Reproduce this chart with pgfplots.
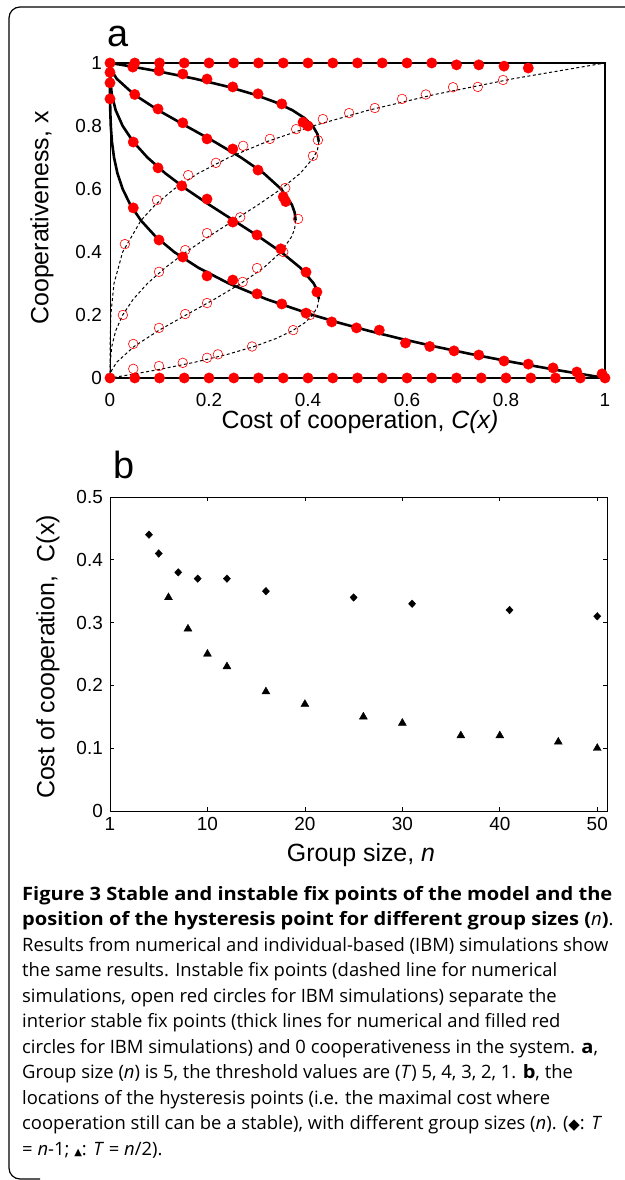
\documentclass[border=0pt]{standalone}
\usepackage{fontspec}
\setmainfont{Liberation Sans}
\newfontfamily\capfont{Open Sans}[BoldFeatures={FakeStretch=1.09}]
\newfontfamily\symfont{DejaVu Sans}
\usepackage{pgfplots}
\pgfplotsset{compat=1.18}
\begin{document}
\begin{tikzpicture}[x=1bp,y=1bp]
\useasboundingbox (0,0) rectangle (625,1180);
\draw[line width=1.2bp, rounded corners=11bp] (626,1173) -- (9,1173) -- (9,1) -- (40,1);

% ---- panel a
\node[font=\fontsize{38}{38}\selectfont, inner sep=0pt] at (118,1143) {a};
\begin{axis}[at={(110bp,802bp)}, anchor=south west, scale only axis, width=495bp, height=315bp,
  xmin=0, xmax=1, ymin=0, ymax=1, enlargelimits=false, clip=false,
  axis x line=bottom, axis y line=left, axis line style={-, line width=0.9bp},
  xtick={0,0.2,0.4,0.6,0.8,1}, xticklabels={0,0.2,0.4,0.6,0.8,1},
  ytick={0,0.2,0.4,0.6,0.8,1}, yticklabels={0,0.2,0.4,0.6,0.8,1},
  major tick length=0pt,
  tick label style={font=\fontsize{19}{19}\selectfont, inner sep=0pt},
  xticklabel style={anchor=center, yshift=-22bp},
  yticklabel style={anchor=east, xshift=-8bp}]
% IBM, stable
\addplot[only marks, mark=*, mark size=5.2bp, mark options={draw=red, fill=red}] coordinates {
 (0,1) (0.05,1) (0.1,1) (0.15,1) (0.2,1) (0.25,1) (0.3,1) (0.35,1) (0.4,1) (0.45,1)
 (0.5,1) (0.55,1) (0.6,1) (0.65,1) (0.7,0.994) (0.745,0.994) (0.796,0.99) (0.845,0.984)
 (0,0.97) (0,0.937) (0,0.886)
 (0.046,0.987) (0.099,0.975) (0.147,0.965) (0.196,0.949) (0.248,0.924) (0.299,0.902) (0.347,0.870) (0.39,0.812) (0.40,0.80)
 (0.05,0.90) (0.097,0.854) (0.147,0.81) (0.196,0.759) (0.248,0.727) (0.299,0.66) (0.35,0.575) (0.355,0.56)
 (0.047,0.749) (0.097,0.667) (0.145,0.61) (0.196,0.568) (0.248,0.495) (0.297,0.454) (0.345,0.41) (0.396,0.336) (0.418,0.273)
 (0.047,0.54) (0.099,0.438) (0.147,0.384) (0.196,0.324) (0.248,0.311) (0.297,0.267) (0.347,0.235) (0.396,0.206)
 (0.448,0.178) (0.498,0.159) (0.544,0.152) (0.597,0.111) (0.646,0.10) (0.695,0.086) (0.745,0.073) (0.796,0.054)
 (0.845,0.044) (0.895,0.032) (0.943,0.019) (0.994,0.013)
 (0,0) (0.05,0) (0.1,0) (0.15,0) (0.2,0) (0.25,0) (0.3,0) (0.35,0) (0.4,0) (0.45,0) (0.5,0)
 (0.55,0) (0.6,0) (0.65,0) (0.7,0) (0.75,0) (0.8,0) (0.85,0) (0.9,0) (0.95,0) (1,0)};
% IBM, unstable
\addplot[only marks, mark=o, mark size=4.8bp, mark options={draw=red, line width=0.6bp}] coordinates {
 (0.03,0.425) (0.095,0.565) (0.158,0.644) (0.214,0.683) (0.269,0.737) (0.323,0.759) (0.376,0.79) (0.43,0.822)
 (0.483,0.841) (0.535,0.857) (0.59,0.886) (0.638,0.90) (0.693,0.923) (0.743,0.924) (0.794,0.946)
 (0.026,0.2) (0.099,0.337) (0.152,0.406) (0.196,0.46) (0.263,0.51) (0.354,0.603) (0.41,0.705) (0.42,0.755)
 (0.047,0.108) (0.099,0.159) (0.152,0.203) (0.196,0.238) (0.268,0.305) (0.297,0.349) (0.35,0.40) (0.38,0.505)
 (0.047,0.029) (0.099,0.038) (0.147,0.048) (0.196,0.064) (0.218,0.075) (0.287,0.10) (0.37,0.152) (0.404,0.2)};
% numerical, unstable (dashed)
\addplot[black, line width=1bp, dash pattern=on 3bp off 2.5bp] coordinates {
 (0,0) (0.0001,0.1) (0.0016,0.2) (0.0081,0.3) (0.0256,0.4) (0.0625,0.5) (0.0915,0.55) (0.1296,0.6) (0.1785,0.65)
 (0.2401,0.7) (0.3164,0.75) (0.4096,0.8) (0.522,0.85) (0.6561,0.9) (0.8145,0.95) (1,1)};
\addplot[black, line width=1bp, dash pattern=on 3bp off 2.5bp] coordinates {
 (0.4219,0.75) (0.4192,0.725) (0.4116,0.7) (0.3845,0.65) (0.3456,0.6) (0.2995,0.55) (0.25,0.5) (0.2005,0.45)
 (0.1536,0.4) (0.1115,0.35) (0.0756,0.3) (0.046875,0.25) (0.0256,0.2) (0.011475,0.15) (0.0036,0.1) (0.000475,0.05) (0,0)};
\addplot[black, line width=1bp, dash pattern=on 3bp off 2.5bp] coordinates {
 (0.375,0.5) (0.3731,0.475) (0.3675,0.45) (0.3456,0.4) (0.3105,0.35) (0.2646,0.3) (0.2109,0.25) (0.1536,0.2)
 (0.0975,0.15) (0.0486,0.1) (0.0135,0.05) (0.00356,0.025) (0,0)};
\addplot[black, line width=1bp, dash pattern=on 3bp off 2.5bp] coordinates {
 (0.4219,0.25) (0.4189,0.225) (0.4096,0.2) (0.3931,0.175) (0.3685,0.15) (0.335,0.125) (0.2916,0.1) (0.2374,0.075)
 (0.1715,0.05) (0.0927,0.025) (0.0388,0.01) (0,0)};
% numerical, stable (thick)
\addplot[black, line width=2.6bp] coordinates {(0,1) (1,1) (1,0)};
\addplot[black, line width=2.6bp] coordinates {(0,0) (1,0)};
\addplot[black, line width=2.6bp] coordinates {
 (0,1) (0.0197,0.995) (0.0388,0.99) (0.0927,0.975) (0.1715,0.95) (0.2374,0.925) (0.2916,0.9) (0.335,0.875)
 (0.3685,0.85) (0.3931,0.825) (0.4096,0.8) (0.4189,0.775) (0.4219,0.75)};
\addplot[black, line width=2.6bp] coordinates {
 (0,1) (0.00356,0.975) (0.0135,0.95) (0.0486,0.9) (0.0975,0.85) (0.1536,0.8) (0.2109,0.75) (0.2646,0.7)
 (0.3105,0.65) (0.3456,0.6) (0.3675,0.55) (0.3731,0.525) (0.375,0.5)};
\addplot[black, line width=2.6bp] coordinates {
 (0,1) (0.000475,0.95) (0.0036,0.9) (0.011475,0.85) (0.0256,0.8) (0.046875,0.75) (0.0756,0.7) (0.1115,0.65)
 (0.1536,0.6) (0.2005,0.55) (0.25,0.5) (0.2995,0.45) (0.3456,0.4) (0.3845,0.35) (0.4116,0.3) (0.4192,0.275) (0.4219,0.25)};
\addplot[black, line width=2.6bp] coordinates {
 (0,1) (0.00000625,0.95) (0.0001,0.9) (0.000506,0.85) (0.0016,0.8) (0.0039,0.75) (0.0081,0.7) (0.015,0.65)
 (0.0256,0.6) (0.041,0.55) (0.0625,0.5) (0.0915,0.45) (0.1296,0.4) (0.1785,0.35) (0.2401,0.3) (0.3164,0.25)
 (0.4096,0.2) (0.4632,0.175) (0.522,0.15) (0.5862,0.125) (0.6561,0.1) (0.7321,0.075) (0.8145,0.05) (0.9037,0.025) (1,0)};
\end{axis}
\node[rotate=90, font=\fontsize{25}{25}\selectfont] at (42,962) {Cooperativeness, x};
\node[font=\fontsize{25}{25}\selectfont] at (360,758) {Cost of cooperation, \textit{C(x)}};

% ---- panel b
\node[font=\fontsize{38}{38}\selectfont, inner sep=0pt] at (124,715) {b};
\begin{axis}[at={(110bp,369bp)}, anchor=south west, scale only axis, width=497bp, height=314bp,
  xmin=0, xmax=51, ymin=0, ymax=0.5, enlargelimits=false, clip=false,
  axis line style={line width=0.9bp},
  xtick={0,10,20,30,40,50}, xticklabels={1,10,20,30,40,50},
  ytick={0,0.1,0.2,0.3,0.4,0.5}, yticklabels={0,0.1,0.2,0.3,0.4,0.5},
  xtick pos=both, ytick pos=both, xticklabel pos=lower, yticklabel pos=left,
  tick align=inside, major tick length=4bp, tick style={black, line width=0.8bp},
  tick label style={font=\fontsize{19}{19}\selectfont, inner sep=0pt},
  xticklabel style={anchor=center, yshift=-13bp},
  yticklabel style={anchor=east, xshift=-7bp}]
\addplot[only marks, mark=diamond*, mark size=3.8bp, mark options={black, xscale=1.25}] coordinates {
 (4,0.44) (5,0.41) (7,0.38) (9,0.37) (12,0.37) (16,0.35) (25,0.34) (31,0.33) (41,0.32) (50,0.31)};
\addplot[only marks, mark=triangle*, mark size=4.6bp, mark options={black}] coordinates {
 (6,0.34) (8,0.29) (10,0.25) (12,0.23) (16,0.19) (20,0.17) (26,0.15) (30,0.14) (36,0.12) (40,0.12) (46,0.11) (50,0.10)};
\end{axis}
\node[rotate=90, font=\fontsize{25}{25}\selectfont] at (48,523) {Cost of cooperation,\ \ C(x)};
\node[font=\fontsize{25}{25}\selectfont] at (361,325) {Group size, \textit{n}};

% ---- caption
\node[anchor=north west, inner sep=0pt, align=left, font=\capfont\fontsize{18.5}{25.6}\selectfont] at (22,294) {%
\textbf{Figure 3 Stable and instable fix points of the model and the}\\
\textbf{position of the hysteresis point for different group sizes (}{\itshape n}\textbf{)}.\\
Results from numerical and individual-based (IBM) simulations show\\
the same results. Instable fix points (dashed line for numerical\\
simulations, open red circles for IBM simulations) separate the\\
interior stable fix points (thick lines for numerical and filled red\\
circles for IBM simulations) and 0 cooperativeness in the system. \textbf{a},\\
Group size (\textit{n}) is 5, the threshold values are (\textit{T}) 5, 4, 3, 2, 1. \textbf{b}, the\\
locations of the hysteresis points (i.e. the maximal cost where\\
cooperation still can be a stable), with different group sizes (\textit{n}). ({\symfont\fontsize{15}{15}\selectfont ◆}: \textit{T}\\
= \textit{n}-1; {\symfont\fontsize{10}{10}\selectfont ▲}: \textit{T} = \textit{n}/2).};
\end{tikzpicture}
\end{document}
